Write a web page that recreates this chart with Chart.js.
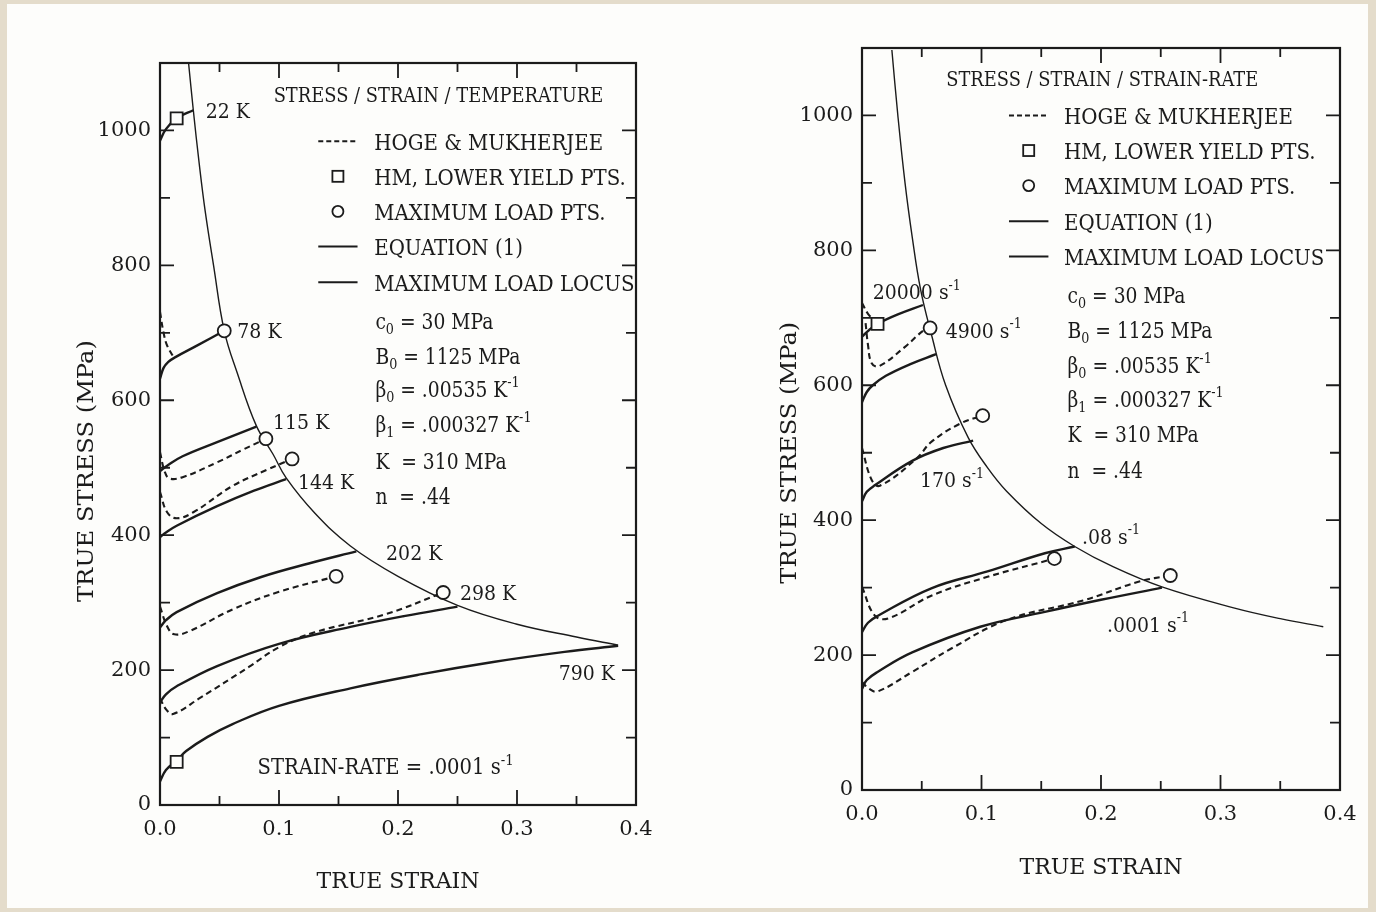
<!DOCTYPE html>
<html>
<head>
<meta charset="utf-8">
<title>Stress / strain curves</title>
<script src="https://cdn.jsdelivr.net/npm/chart.js@4.4.1/dist/chart.umd.min.js"></script>
<style>
  html, body { margin: 0; padding: 0; }
  body { width: 1376px; height: 912px; background: #e4dccb; position: relative; overflow: hidden; }
  #paper { position: absolute; left: 7px; top: 4px; width: 1361px; height: 904px; background: #fdfdfb; }
  #wrapT { position: absolute; left: 30px; top: 30px; width: 650px; height: 870px; }
  #wrapR { position: absolute; left: 700px; top: 18px; width: 676px; height: 882px; }
</style>
</head>
<body>
<div id="paper"></div>
<div id="wrapT"><canvas id="chartT"></canvas></div>
<div id="wrapR"><canvas id="chartR"></canvas></div>
<script>
// axis ticks
const strainTicks = [0, 0.1, 0.2, 0.3, 0.4];
const stressTicks = [0, 200, 400, 600, 800, 1000];

// ---- left panel: stress / strain / temperature  ([strain, stress MPa])
const tempLocus = [[0.024,1100],[0.028,1030],[0.033,950],[0.038,880],[0.045,800],[0.054,703],[0.065,640],[0.081,562],[0.095,520],[0.106,485],[0.13,433],[0.16,384],[0.2,339],[0.25,296],[0.3,268],[0.35,249],[0.385,237]];
const eq22K  = [[0,985],[0.005,1002],[0.014,1018],[0.028,1030]];
const eq78K  = [[0,632],[0.003,648],[0.007,657],[0.013,664],[0.031,681],[0.054,703]];
const eq115K = [[0,495],[0.006,503],[0.019,517],[0.048,538],[0.081,561]];
const eq144K = [[0,397],[0.005,404],[0.014,414],[0.048,443],[0.079,466],[0.106,483]];
const eq202K = [[0,263],[0.005,274],[0.014,286],[0.048,314],[0.085,338],[0.125,358],[0.165,376]];
const eq298K = [[0,152],[0.005,164],[0.014,176],[0.048,206],[0.1,239],[0.16,264],[0.205,280],[0.25,294]];
const eq790K = [[0,35],[0.005,52],[0.014,66],[0.022,80],[0.04,101],[0.061,120],[0.1,147],[0.16,173],[0.22,194],[0.28,212],[0.34,227],[0.385,236]];
const hm78K  = [[0,731],[0.003,700],[0.006,681],[0.011,665]];
const hm115K = [[0,523],[0.004,494],[0.008,484],[0.019,486],[0.048,508],[0.07,527],[0.089,543]];
const hm144K = [[0,464],[0.006,434],[0.014,425],[0.028,434],[0.061,473],[0.09,497],[0.111,513]];
const hm202K = [[0,294],[0.006,265],[0.012,253],[0.025,258],[0.061,290],[0.1,316],[0.148,339]];
const hm298K = [[0,158],[0.005,142],[0.011,135],[0.033,158],[0.075,205],[0.1,234],[0.13,256],[0.19,283],[0.238,315]];
const tempMaxLoad = [[0.054,703],[0.089,543],[0.111,513],[0.148,339],[0.238,315]];
const tempYield   = [[0.014,1018],[0.014,64]];
const tempLabels  = ['22 K','78 K','115 K','144 K','202 K','298 K','790 K'];

// ---- right panel: stress / strain / strain-rate
const rateLocus = [[0.025,1097],[0.03,1000],[0.036,900],[0.042,820],[0.049,742],[0.058,676],[0.07,600],[0.089,522],[0.105,478],[0.121,443],[0.15,395],[0.178,361],[0.21,331],[0.251,301],[0.311,270],[0.35,254],[0.386,242]];
const eq20000 = [[0,672],[0.006,682],[0.013,691],[0.03,705],[0.051,719]];
const eq4900  = [[0,575],[0.004,590],[0.009,600],[0.02,614],[0.04,631],[0.062,646]];
const eq170   = [[0,428],[0.004,442],[0.011,452],[0.042,488],[0.068,507],[0.093,518]];
const eq08    = [[0,234],[0.005,248],[0.013,258],[0.058,299],[0.105,324],[0.153,351],[0.178,361]];
const eq0001  = [[0,150],[0.004,163],[0.013,175],[0.042,204],[0.099,242],[0.153,264],[0.2,282],[0.251,300]];
const hm20000 = [[0,722],[0.005,706],[0.013,691]];
const hm4900  = [[0.003,692],[0.005,660],[0.008,633],[0.014,628],[0.036,657],[0.052,682],[0.057,685]];
const hm170   = [[0,507],[0.008,460],[0.015,451],[0.046,492],[0.058,516],[0.082,543],[0.101,555]];
const hm08    = [[0,301],[0.011,258],[0.023,255],[0.058,288],[0.105,316],[0.161,343]];
const hm0001  = [[0,160],[0.006,150],[0.013,146],[0.042,175],[0.074,209],[0.121,252],[0.185,281],[0.232,309],[0.258,318]];
const rateMaxLoad = [[0.057,685],[0.101,555],[0.161,343],[0.258,318]];
const rateYield   = [[0.013,691]];
const rateLabels  = ['20000 s^-1','4900 s^-1','170 s^-1','.08 s^-1','.0001 s^-1'];

const legendNames = ['HOGE & MUKHERJEE','HM, LOWER YIELD PTS.','MAXIMUM LOAD PTS.','EQUATION (1)','MAXIMUM LOAD LOCUS'];
const paramLines  = ['c_0 = 30 MPa','B_0 = 1125 MPa','\u03B2_0 = .00535 K^-1','\u03B2_1 = .000327 K^-1','K  = 310 MPa','n  = .44'];

const FONT = '"DejaVu Serif", "Liberation Serif", serif';
const INK = '#1b1b1b';

const toXY = arr => arr.map(p => ({x: p[0], y: p[1]}));

// draws text with _x subscripts and ^x superscripts, horizontally squeezed by sx
function richText(ctx, str, px, py, size, align, sx) {
  const parts = [];
  const re = /([_^])(-?\w)/g;
  let last = 0, m;
  while ((m = re.exec(str))) {
    if (m.index > last) parts.push({t: str.slice(last, m.index), k: ''});
    parts.push({t: m[2], k: m[1]});
    last = re.lastIndex;
  }
  if (last < str.length) parts.push({t: str.slice(last), k: ''});
  const small = Math.round(size * 0.68);
  let w = 0;
  parts.forEach(p => {
    ctx.font = (p.k ? small : size) + 'px ' + FONT;
    p.w = ctx.measureText(p.t).width;
    w += p.w;
  });
  let cx = align === 'center' ? -w / 2 : align === 'right' ? -w : 0;
  ctx.save();
  ctx.translate(px, py + size * 0.36);
  ctx.scale(sx, 1);
  ctx.fillStyle = INK;
  ctx.textAlign = 'left';
  ctx.textBaseline = 'alphabetic';
  parts.forEach(p => {
    ctx.font = (p.k ? small : size) + 'px ' + FONT;
    const dy = p.k === '_' ? size * 0.22 : p.k === '^' ? -size * 0.45 : 0;
    ctx.fillText(p.t, cx, dy);
    cx += p.w;
  });
  ctx.restore();
}

// frame with inward ticks on all four sides
const frameTicks = {
  id: 'frameTicks',
  afterDatasetsDraw(chart) {
    const {ctx, chartArea: a, scales: {x, y}} = chart;
    ctx.save();
    ctx.strokeStyle = INK;
    ctx.lineWidth = 2.2;
    ctx.strokeRect(a.left, a.top, a.right - a.left, a.bottom - a.top);
    ctx.lineWidth = 1.8;
    ctx.beginPath();
    x.ticks.forEach(t => {
      const px = x.getPixelForValue(t.value);
      const len = strainTicks.some(v => Math.abs(v - t.value) < 1e-6) ? 15 : 9;
      ctx.moveTo(px, a.bottom); ctx.lineTo(px, a.bottom - len);
      ctx.moveTo(px, a.top); ctx.lineTo(px, a.top + len);
    });
    y.ticks.forEach(t => {
      const py = y.getPixelForValue(t.value);
      const len = stressTicks.includes(t.value) ? 14 : 10;
      ctx.moveTo(a.left, py); ctx.lineTo(a.left + len, py);
      ctx.moveTo(a.right, py); ctx.lineTo(a.right - len, py);
    });
    ctx.stroke();
    ctx.restore();
  }
};

// in-plot legend, parameters and curve labels (positions in data units)
const notes = {
  id: 'notes',
  afterDraw(chart, args, opts) {
    const {ctx, scales: {x, y}} = chart;
    const X = v => x.getPixelForValue(v), Y = v => y.getPixelForValue(v);
    ctx.save();
    ctx.strokeStyle = INK;
    (opts.items || []).forEach(it => {
      if (it.kind === 'line') {
        ctx.save();
        ctx.lineWidth = 2;
        ctx.setLineDash(it.dash ? [5, 3] : []);
        ctx.beginPath();
        ctx.moveTo(X(it.x0), Y(it.y)); ctx.lineTo(X(it.x1), Y(it.y));
        ctx.stroke();
        ctx.restore();
      } else if (it.kind === 'square') {
        ctx.lineWidth = 1.8;
        ctx.strokeRect(X(it.x) - 5.5, Y(it.y) - 5.5, 11, 11);
      } else if (it.kind === 'circle') {
        ctx.lineWidth = 1.8;
        ctx.beginPath(); ctx.arc(X(it.x), Y(it.y), 5.5, 0, Math.PI * 2); ctx.stroke();
      } else if (it.kind === 'vtext') {
        ctx.save();
        ctx.translate(X(it.x), Y(it.y));
        ctx.rotate(-Math.PI / 2);
        richText(ctx, it.text, 0, 0, it.size, 'center', it.sx || 1);
        ctx.restore();
      } else {
        richText(ctx, it.text, X(it.x), Y(it.y), it.size, it.align || 'left', it.sx || 0.8);
      }
    });
    ctx.restore();
  }
};

function legendItems(title, tx, ty, lx0, lx1, txtX, rows, px, prow) {
  const items = [{kind: 'text', text: title, x: tx, y: ty, size: 21, align: 'center', sx: 0.85}];
  const mid = (lx0 + lx1) / 2;
  items.push({kind: 'line', dash: true, x0: lx0, x1: lx1, y: rows[0]});
  items.push({kind: 'square', x: mid, y: rows[1]});
  items.push({kind: 'circle', x: mid, y: rows[2]});
  items.push({kind: 'line', x0: lx0, x1: lx1, y: rows[3]});
  items.push({kind: 'line', x0: lx0, x1: lx1, y: rows[4]});
  legendNames.forEach((n, i) => items.push({kind: 'text', text: n, x: txtX, y: rows[i], size: 23, sx: 0.86}));
  paramLines.forEach((n, i) => items.push({kind: 'text', text: n, x: px, y: prow[i], size: 22, sx: 0.85}));
  return items;
}

function buildDatasets(eqs, hms, locus, maxLoad, yieldPts) {
  const ds = [];
  ds.push({data: toXY(maxLoad), showLine: false, pointStyle: 'circle', pointRadius: 6.5,
    pointBackgroundColor: '#fdfdfb', pointBorderColor: INK, pointBorderWidth: 1.8, order: 0});
  ds.push({data: toXY(yieldPts), showLine: false, pointStyle: 'rect', pointRadius: 8.5,
    pointBackgroundColor: '#fdfdfb', pointBorderColor: INK, pointBorderWidth: 1.8, order: 0});
  ds.push({data: toXY(locus), borderColor: INK, borderWidth: 1.4, pointRadius: 0, tension: 0.4, order: 1});
  eqs.forEach(c => ds.push({data: toXY(c), borderColor: INK, borderWidth: 2.4, pointRadius: 0,
    tension: 0.4, order: 1}));
  hms.forEach(c => ds.push({data: toXY(c), borderColor: INK, borderWidth: 2.1, borderDash: [6, 4],
    pointRadius: 0, tension: 0.4, order: 1}));
  return ds;
}

function makeChart(id, datasets, items, geo) {
  return new Chart(document.getElementById(id), {
    type: 'line',
    data: {datasets},
    plugins: [frameTicks, notes],
    options: {
      responsive: true,
      maintainAspectRatio: false,
      animation: false,
      layout: {padding: {top: geo.top, right: geo.right, left: 0, bottom: 0}},
      plugins: {legend: {display: false}, tooltip: {enabled: false}, notes: {items}},
      scales: {
        x: {
          type: 'linear', min: 0, max: 0.4,
          grid: {display: false, drawTicks: false}, border: {display: false},
          ticks: {stepSize: 0.05, autoSkip: false, maxRotation: 0, padding: 12, color: INK,
            font: {family: FONT, size: 21},
            callback: v => strainTicks.some(s => Math.abs(s - v) < 1e-6) ? v.toFixed(1) : ''},
          title: {display: true, text: 'TRUE STRAIN', color: INK, font: {family: FONT, size: 22},
            padding: {top: 0, bottom: geo.xTitle}},
          afterFit: s => { s.height = geo.xHeight; }
        },
        y: {
          type: 'linear', min: 0, max: 1100,
          grid: {display: false, drawTicks: false}, border: {display: false},
          ticks: {stepSize: 100, autoSkip: false, padding: 9, color: INK,
            font: {family: FONT, size: 21},
            callback: v => stressTicks.includes(v) ? String(v) : ''},
          afterFit: s => { s.width = geo.yWidth; }
        }
      }
    }
  });
}

// left panel
const tempItems = legendItems('STRESS / STRAIN / TEMPERATURE', 0.234, 1053, 0.133, 0.166, 0.180,
  [984, 932, 880, 828, 775], 0.181, [717, 666, 617, 565, 510, 458]);
[[0.0385,1030],[0.065,703],[0.095,568],[0.116,480],[0.190,375],[0.252,315],[0.335,196]]
  .forEach((p, i) => tempItems.push({kind: 'text', text: tempLabels[i], x: p[0], y: p[1], size: 21, sx: 0.9}));
tempItems.push({kind: 'text', text: 'STRAIN-RATE = .0001 s^-1', x: 0.082, y: 57, size: 22, sx: 0.89});
tempItems.push({kind: 'vtext', text: 'TRUE STRESS (MPa)', x: -0.063, y: 495, size: 23, sx: 1.05});

makeChart('chartT',
  buildDatasets([eq22K, eq78K, eq115K, eq144K, eq202K, eq298K, eq790K],
                [hm78K, hm115K, hm144K, hm202K, hm298K], tempLocus, tempMaxLoad, tempYield),
  tempItems, {top: 33, right: 44, yWidth: 130, xHeight: 95, xTitle: 5});

// right panel
const rateItems = legendItems('STRESS / STRAIN / STRAIN-RATE', 0.201, 1055, 0.123, 0.156, 0.169,
  [1000, 948, 896, 843, 791], 0.172, [734, 682, 630, 579, 527, 475]);
[[0.009,739],[0.070,682],[0.0485,460],[0.184,376],[0.205,246]]
  .forEach((p, i) => rateItems.push({kind: 'text', text: rateLabels[i], x: p[0], y: p[1], size: 21, sx: 0.9}));
rateItems.push({kind: 'vtext', text: 'TRUE STRESS (MPa)', x: -0.062, y: 500, size: 23, sx: 1.05});

makeChart('chartR',
  buildDatasets([eq20000, eq4900, eq170, eq08, eq0001],
                [hm20000, hm4900, hm170, hm08, hm0001], rateLocus, rateMaxLoad, rateYield),
  rateItems, {top: 30, right: 36, yWidth: 162, xHeight: 110, xTitle: 19});
</script>
</body>
</html>
